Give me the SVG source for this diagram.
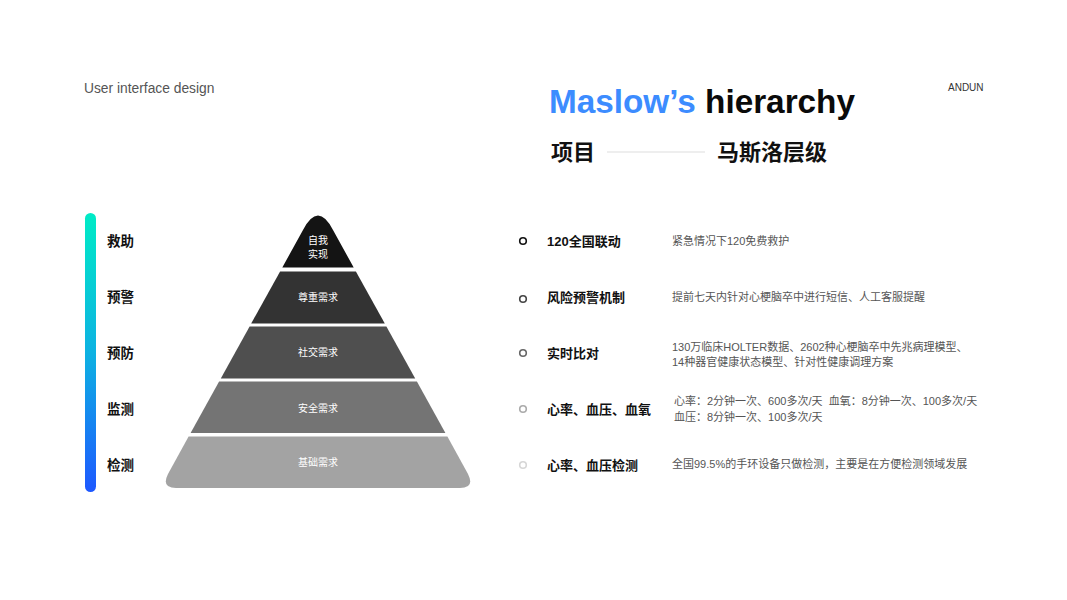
<svg xmlns="http://www.w3.org/2000/svg" width="1067" height="600" viewBox="0 0 1067 600">
<defs>
<linearGradient id="bar" x1="0" y1="0" x2="0" y2="1">
<stop offset="0" stop-color="#00EBC6"/>
<stop offset="0.5" stop-color="#0DB2E2"/>
<stop offset="1" stop-color="#1E58FF"/>
</linearGradient>
<style>
.cn{font-family:"Liberation Sans","Noto Sans CJK SC",sans-serif}
.lvl{font-size:13.5px;font-weight:bold;fill:#111}
.in{font-size:10px;fill:#ffffff;text-anchor:middle}
.ttl{font-size:13px;font-weight:bold;fill:#111}
.desc{font-size:11px;fill:#555}
.dot{fill:none;stroke-width:1.6}
</style>
</defs>
<rect width="1067" height="600" fill="#ffffff"/>
<g id="header">
<text x="84" y="93" class="cn" font-size="13.8" fill="#555">User interface design</text>
<text x="948" y="91" class="cn" font-size="10" fill="#333">ANDUN</text>
<text x="549" y="113" class="cn" font-size="33.3" font-weight="bold"><tspan fill="#3C8CFF">Maslow’s</tspan><tspan fill="#0a0a0a"> hierarchy</tspan></text>
<text x="551" y="160" class="cn" font-size="22" font-weight="bold" fill="#111">项目</text>
<line x1="607" y1="152" x2="705" y2="152" stroke="#dddddd" stroke-width="1"/>
<text x="717" y="160" class="cn" font-size="22" font-weight="bold" fill="#111">马斯洛层级</text>
</g>
<g id="scale">
<rect x="85" y="213" width="11" height="279" rx="5.5" fill="url(#bar)"/>
<text x="107" y="246" class="cn lvl">救助</text>
<text x="107" y="302" class="cn lvl">预警</text>
<text x="107" y="358" class="cn lvl">预防</text>
<text x="107" y="414" class="cn lvl">监测</text>
<text x="107" y="470" class="cn lvl">检测</text>
</g>
<g id="pyramid">
<g id="layer1">
<path d="M282.3 267.5 L303 230 Q318 201 333 230 L353.7 267.5 Z" fill="#141414"/>
<text x="318" y="244" class="cn in">自我</text>
<text x="318" y="258" class="cn in">实现</text>
</g>
<g id="layer2">
<path d="M280.1 271.5 L355.9 271.5 L384.8 323.5 L251.2 323.5 Z" fill="#333333"/>
<text x="318" y="301" class="cn in">尊重需求</text>
</g>
<g id="layer3">
<path d="M249.6 326.5 L386.4 326.5 L415.2 378.5 L220.8 378.5 Z" fill="#4f4f4f"/>
<text x="318" y="356" class="cn in">社交需求</text>
</g>
<g id="layer4">
<path d="M219.1 381.5 L416.9 381.5 L445.4 433 L190.6 433 Z" fill="#747474"/>
<text x="318" y="412" class="cn in">安全需求</text>
</g>
<g id="layer5">
<path d="M188.6 436.5 L447.4 436.5 L468 474 Q475 488 460 488 L176 488 Q161 488 168 474 Z" fill="#a3a3a3"/>
<text x="318" y="466" class="cn in" fill="#eeeeee">基础需求</text>
</g>
</g>
<g id="items">
<g id="item1">
<circle cx="523" cy="241" r="3.3" class="dot" stroke="#111"/>
<text x="547" y="246" class="cn ttl">120全国联动</text>
<text x="672" y="245" class="cn desc">紧急情况下120免费救护</text>
</g>
<g id="item2">
<circle cx="523" cy="299" r="3.3" class="dot" stroke="#444"/>
<text x="547" y="302" class="cn ttl">风险预警机制</text>
<text x="672" y="301" class="cn desc">提前七天内针对心梗脑卒中进行短信、人工客服提醒</text>
</g>
<g id="item3">
<circle cx="523" cy="353" r="3.3" class="dot" stroke="#666"/>
<text x="547" y="358" class="cn ttl">实时比对</text>
<text x="672" y="351" class="cn desc">130万临床HOLTER数据、2602种心梗脑卒中先兆病理模型、</text>
<text x="672" y="366" class="cn desc">14种器官健康状态模型、针对性健康调理方案</text>
</g>
<g id="item4">
<circle cx="523" cy="409" r="3.3" class="dot" stroke="#aaa"/>
<text x="547" y="414" class="cn ttl">心率、血压、血氧</text>
<text x="674" y="405" class="cn desc" xml:space="preserve">心率：2分钟一次、600多次/天  血氧：8分钟一次、100多次/天</text>
<text x="674" y="421" class="cn desc">血压：8分钟一次、100多次/天</text>
</g>
<g id="item5">
<circle cx="523" cy="465" r="3.3" class="dot" stroke="#d6d6d6"/>
<text x="547" y="470" class="cn ttl">心率、血压检测</text>
<text x="672" y="468" class="cn desc">全国99.5%的手环设备只做检测，主要是在方便检测领域发展</text>
</g>
</g>
</svg>
